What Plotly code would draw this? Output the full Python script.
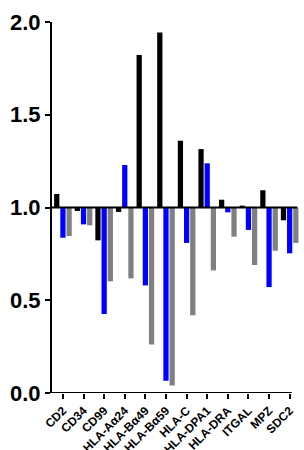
import plotly.graph_objects as go

categories = ["CD2", "CD34", "CD99", "HLA-Aα24", "HLA-Bα49", "HLA-Bα59", "HLA-C",
              "HLA-DPA1", "HLA-DRA", "ITGAL", "MPZ", "SDC2"]
black_vals = [1.073, 0.981, 0.823, 0.976, 1.822, 1.944, 1.360, 1.315, 1.042, 1.010, 1.093, 0.931]
blue_vals = [0.837, 0.909, 0.426, 1.229, 0.580, 0.066, 0.809, 1.238, 0.974, 0.879, 0.571, 0.753]
gray_vals = [0.846, 0.904, 0.602, 0.618, 0.262, 0.041, 0.419, 0.661, 0.843, 0.690, 0.767, 0.809]
series = [("black", black_vals, "#000000"), ("blue", blue_vals, "#0000FF"), ("gray", gray_vals, "#808080")]
baseline = 1.0
x_lo, x_axis_end, x_hi = -0.53, 11.1, 11.55

fig = go.Figure()
for name, vals, col in series:
    fig.add_trace(go.Bar(
        x=categories, y=[v - baseline for v in vals], base=baseline,
        name=name, marker=dict(color=col, line=dict(width=0)),
    ))

font = dict(family="Liberation Sans, Arial, sans-serif", color="black", weight="bold")
fig.update_layout(
    width=304, height=450,
    margin=dict(l=52, r=3, t=22, b=57, autoexpand=False),
    barmode="group", bargap=0.1, bargroupgap=0.15,
    showlegend=False,
    plot_bgcolor="white", paper_bgcolor="white",
    xaxis=dict(
        range=[x_lo, x_hi], showline=False,
        ticks="outside", ticklen=5, tickwidth=2, tickcolor="black", automargin=False,
        tickangle=-45, tickfont=dict(size=12, **font), showgrid=False, zeroline=False,
    ),
    yaxis=dict(
        range=[0, 2.0], tickvals=[0, 0.5, 1.0, 1.5, 2.0], ticktext=["0.0", "0.5", "1.0", "1.5", "2.0"],
        showline=True, linecolor="black", linewidth=2, automargin=False,
        ticks="outside", ticklen=5, tickwidth=2, tickcolor="black", ticklabelstandoff=0,
        tickfont=dict(size=22, **font), showgrid=False, zeroline=False,
    ),
    shapes=[
        dict(type="line", xref="paper", yref="y", x0=0, x1=0.985, y0=baseline, y1=baseline,
             line=dict(color="black", width=2), layer="above"),
        dict(type="line", xref="x", yref="y", x0=x_lo, x1=x_axis_end, y0=0, y1=0,
             line=dict(color="black", width=2), layer="above"),
    ],
)
fig.write_html("out.html", config={"displayModeBar": False},
               post_script="document.body.style.margin='0';document.body.style.overflow='hidden';")
